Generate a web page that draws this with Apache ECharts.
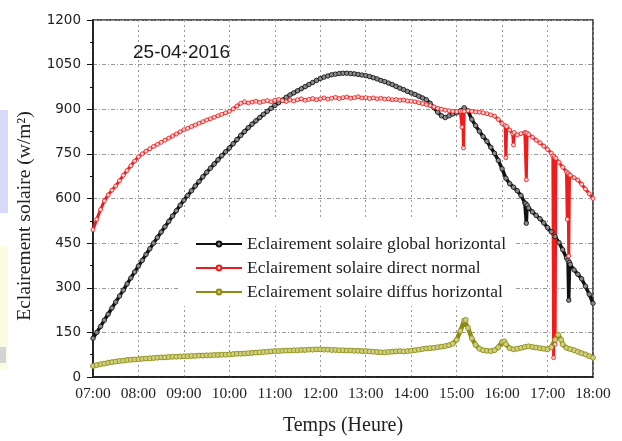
<!DOCTYPE html>
<html>
<head>
<meta charset="utf-8">
<title>Eclairement solaire 25-04-2016</title>
<script src="https://cdn.jsdelivr.net/npm/echarts@6/dist/echarts.min.js"></script>
<style>
  html, body { margin: 0; padding: 0; background: #fff; }
  #chart { width: 622px; height: 441px; }
</style>
</head>
<body>
<div id="chart"></div>
<script>
// Measured irradiance, 25-04-2016, pairs of [local time, W/m²]
const globalHorizontal = [
  ["07:00",130],["07:05",150],["07:10",170],["07:15",191],["07:20",211],["07:25",232],
  ["07:30",252],["07:35",272],["07:40",292],["07:45",313],["07:50",333],["07:55",353],
  ["08:00",373],["08:05",392],["08:10",412],["08:15",431],["08:20",450],["08:25",469],
  ["08:30",487],["08:35",505],["08:40",523],["08:45",541],["08:50",559],["08:55",577],
  ["09:00",594],["09:05",610],["09:10",626],["09:15",642],["09:20",657],["09:25",673],
  ["09:30",688],["09:35",702],["09:40",716],["09:45",730],["09:50",744],["09:55",757],
  ["10:00",770],["10:05",784],["10:10",798],["10:15",812],["10:20",825],["10:25",838],
  ["10:30",850],["10:35",861],["10:40",872],["10:45",883],["10:50",893],["10:55",903],
  ["11:00",913],["11:05",922],["11:10",931],["11:15",940],["11:20",948],["11:25",955],
  ["11:30",962],["11:35",969],["11:40",976],["11:45",983],["11:50",990],["11:55",997],
  ["12:00",1003],["12:05",1008],["12:10",1012],["12:15",1016],["12:20",1018],["12:25",1020],
  ["12:30",1021],["12:35",1021],["12:40",1020],["12:45",1019],["12:50",1017],["12:55",1015],
  ["13:00",1013],["13:05",1010],["13:10",1006],["13:15",1002],["13:20",997],["13:25",993],
  ["13:30",988],["13:35",983],["13:40",977],["13:45",971],["13:50",966],["13:55",960],
  ["14:00",955],["14:05",950],["14:10",944],["14:15",938],["14:20",932],["14:25",920],
  ["14:30",905],["14:35",890],["14:40",878],["14:45",872],["14:50",878],["14:55",884],
  ["15:00",888],["15:05",895],["15:10",905],["15:15",895],["15:20",866],["15:25",845],
  ["15:30",826],["15:35",808],["15:40",792],["15:45",772],["15:50",752],["15:55",728],
  ["16:00",700],["16:05",668],["16:10",650],["16:15",638],["16:20",626],["16:25",610],
  ["16:30",585],["16:31",583],["16:32",517],["16:33",578],["16:35",568],["16:40",555],
  ["16:45",543],["16:50",532],["16:55",518],["17:00",502],["17:05",488],["17:10",472],
  ["17:15",452],["17:20",428],["17:25",400],["17:27",392],["17:28",258],["17:29",385],
  ["17:30",378],["17:35",360],["17:40",345],["17:45",330],["17:50",305],["17:55",278],
  ["18:00",248]
];

const directNormal = [
  ["07:00",495],["07:05",530],["07:10",563],["07:15",592],["07:20",612],["07:25",628],
  ["07:30",642],["07:35",660],["07:40",678],["07:45",694],["07:50",710],["07:55",726],
  ["08:00",740],["08:05",750],["08:10",759],["08:15",767],["08:20",775],["08:25",782],
  ["08:30",789],["08:35",796],["08:40",803],["08:45",810],["08:50",817],["08:55",824],
  ["09:00",831],["09:05",836],["09:10",842],["09:15",847],["09:20",853],["09:25",858],
  ["09:30",864],["09:35",868],["09:40",873],["09:45",878],["09:50",883],["09:55",888],
  ["10:00",893],["10:05",901],["10:10",911],["10:15",920],["10:20",925],["10:25",921],
  ["10:30",924],["10:35",927],["10:40",923],["10:45",926],["10:50",929],["10:55",925],
  ["11:00",930],["11:05",933],["11:10",929],["11:15",926],["11:20",931],["11:25",928],
  ["11:30",932],["11:35",935],["11:40",930],["11:45",933],["11:50",936],["11:55",932],
  ["12:00",935],["12:05",938],["12:10",934],["12:15",937],["12:20",940],["12:25",936],
  ["12:30",939],["12:35",941],["12:40",937],["12:45",939],["12:50",942],["12:55",938],
  ["13:00",939],["13:05",936],["13:10",938],["13:15",935],["13:20",937],["13:25",934],
  ["13:30",935],["13:35",932],["13:40",933],["13:45",930],["13:50",931],["13:55",928],
  ["14:00",927],["14:05",925],["14:10",922],["14:15",919],["14:20",916],["14:25",912],
  ["14:30",908],["14:35",903],["14:40",900],["14:45",897],["14:50",895],["14:55",893],
  ["15:00",892],["15:05",893],["15:07",840],["15:08",893],["15:09",770],["15:10",893],
  ["15:15",895],["15:20",893],["15:25",891],["15:30",890],["15:35",888],["15:40",885],
  ["15:45",881],["15:50",877],["15:55",866],["16:00",852],["16:04",845],["16:05",737],
  ["16:06",842],["16:10",830],["16:14",818],["16:15",780],["16:16",822],["16:20",814],
  ["16:25",818],["16:30",822],["16:31",821],["16:32",663],["16:33",820],["16:35",815],
  ["16:40",806],["16:45",796],["16:50",787],["16:55",776],["17:00",765],["17:05",752],
  ["17:07",743],["17:08",65],["17:09",740],["17:10",110],["17:11",735],["17:15",722],
  ["17:20",705],["17:25",690],["17:26",530],["17:27",685],["17:28",407],["17:29",680],
  ["17:30",678],["17:35",670],["17:40",662],["17:45",648],["17:50",632],["17:55",616],
  ["18:00",600]
];

const diffuseHorizontal = [
  ["07:00",37],["07:05",40],["07:10",43],["07:15",45],["07:20",48],["07:25",50],
  ["07:30",52],["07:35",54],["07:40",55],["07:45",57],["07:50",58],["07:55",59],
  ["08:00",60],["08:05",61],["08:10",62],["08:15",63],["08:20",64],["08:25",65],
  ["08:30",66],["08:35",66],["08:40",67],["08:45",68],["08:50",68],["08:55",69],
  ["09:00",70],["09:05",70],["09:10",71],["09:15",71],["09:20",72],["09:25",72],
  ["09:30",73],["09:35",73],["09:40",74],["09:45",74],["09:50",75],["09:55",75],
  ["10:00",76],["10:05",77],["10:10",78],["10:15",78],["10:20",79],["10:25",80],
  ["10:30",81],["10:35",82],["10:40",83],["10:45",84],["10:50",85],["10:55",86],
  ["11:00",87],["11:05",87],["11:10",88],["11:15",89],["11:20",89],["11:25",90],
  ["11:30",90],["11:35",91],["11:40",91],["11:45",92],["11:50",92],["11:55",93],
  ["12:00",93],["12:05",92],["12:10",92],["12:15",91],["12:20",91],["12:25",90],
  ["12:30",90],["12:35",89],["12:40",89],["12:45",88],["12:50",88],["12:55",87],
  ["13:00",87],["13:05",86],["13:10",85],["13:15",84],["13:20",83],["13:25",83],
  ["13:30",84],["13:35",85],["13:40",86],["13:45",87],["13:50",86],["13:55",87],
  ["14:00",88],["14:05",90],["14:10",92],["14:15",94],["14:20",96],["14:25",97],
  ["14:30",98],["14:35",100],["14:40",102],["14:45",104],["14:50",107],["14:55",112],
  ["15:00",125],["15:05",155],["15:10",190],["15:12",192],["15:15",165],["15:20",130],
  ["15:25",108],["15:30",95],["15:35",90],["15:40",88],["15:45",87],["15:50",90],
  ["15:55",100],["16:00",118],["16:03",120],["16:05",110],["16:10",97],["16:15",93],
  ["16:20",95],["16:25",98],["16:30",101],["16:35",103],["16:40",101],["16:45",99],
  ["16:50",97],["16:55",95],["17:00",93],["17:05",100],["17:10",125],["17:14",142],
  ["17:18",125],["17:20",110],["17:25",98],["17:30",94],["17:35",90],["17:40",85],
  ["17:45",80],["17:50",76],["17:55",70],["18:00",65]
];

const seriesNames = [
  "Eclairement solaire global horizontal",
  "Eclairement solaire direct normal",
  "Eclairement solaire diffus horizontal"
];
const hourTicks = [7, 8, 9, 10, 11, 12, 13, 14, 15, 16, 17, 18];
const irradianceTicks = [0, 150, 300, 450, 600, 750, 900, 1050, 1200];

function toHours(t) {
  const [h, m] = t.split(":").map(Number);
  return h + m / 60;
}
function toPoints(rows) {
  return rows.map(([t, v]) => [toHours(t), v]);
}
function hourLabel(v) {
  return String(Math.round(v)).padStart(2, "0") + ":00";
}

const serif = "'Liberation Serif', 'Times New Roman', serif";

function lineSeries(name, rows, lineColor, fillColor, size, width) {
  return {
    name: name,
    type: "line",
    data: toPoints(rows),
    symbol: "circle",
    symbolSize: size,
    showSymbol: true,
    showAllSymbol: true,
    lineStyle: { color: lineColor, width: width },
    itemStyle: { color: fillColor, borderColor: lineColor, borderWidth: 0.8 },
    emphasis: { disabled: true }
  };
}

const chart = echarts.init(document.getElementById("chart"), null, { renderer: "canvas" });

chart.setOption({
  animation: false,
  backgroundColor: "#fff",
  title: {
    text: "25-04-2016",
    left: 133,
    top: 43,
    padding: 0,
    textStyle: { fontFamily: "'Liberation Sans', Arial, sans-serif", fontSize: 19, fontWeight: "normal", color: "#1a1a1a" }
  },
  grid: {
    left: 93, right: 29, top: 20, bottom: 58,
    show: true, borderColor: "#222", borderWidth: 1.5
  },
  legend: {
    data: seriesNames,
    orient: "vertical",
    left: 180,
    top: 218,
    itemWidth: 46,
    itemHeight: 6,
    itemGap: 6,
    padding: [17, 10, 5, 15],
    backgroundColor: "#fff",
    textStyle: { fontFamily: serif, fontSize: 17.5, color: "#222" }
  },
  xAxis: {
    type: "value",
    min: hourTicks[0],
    max: hourTicks[hourTicks.length - 1],
    interval: 1,
    name: "Temps (Heure)",
    nameLocation: "middle",
    nameGap: 39,
    nameTextStyle: { fontFamily: serif, fontSize: 20, color: "#222" },
    axisLine: { lineStyle: { color: "#111", width: 1.5 } },
    axisTick: { show: false },
    axisLabel: {
      margin: 9,
      formatter: hourLabel,
      fontFamily: serif, fontSize: 15.5, color: "#222"
    },
    splitLine: { show: true, lineStyle: { color: "#999", width: 1, type: [2, 3] } }
  },
  yAxis: {
    type: "value",
    min: irradianceTicks[0],
    max: irradianceTicks[irradianceTicks.length - 1],
    interval: irradianceTicks[1] - irradianceTicks[0],
    axisLine: { show: true, lineStyle: { color: "#111", width: 1.5 } },
    axisTick: { show: true, inside: false, length: 6, lineStyle: { color: "#111", width: 1 } },
    minorTick: { show: true, splitNumber: 2, length: 3, lineStyle: { color: "#111", width: 1 } },
    axisLabel: {
      margin: 12,
      formatter: v => String(v),
      fontFamily: "'DejaVu Sans', Verdana, sans-serif", fontSize: 13.5, color: "#222"
    },
    splitLine: { show: true, lineStyle: { color: "#999", width: 1, type: [4, 2, 1, 2] } }
  },
  graphic: [
    // thin coloured strips along the left edge
    { type: "rect", left: 0, top: 110, shape: { width: 8, height: 103 }, style: { fill: "#d8d8f7" }, silent: true },
    { type: "rect", left: 0, top: 246, shape: { width: 8, height: 124 }, style: { fill: "#fcfce4" }, silent: true },
    { type: "rect", left: 0, top: 347, shape: { width: 6, height: 16 }, style: { fill: "#d4d4d4" }, silent: true },
    {
      type: "text",
      x: 25,
      y: 216,
      rotation: Math.PI / 2,
      style: {
        text: "Eclairement solaire (w/m²)",
        fontFamily: serif,
        fontSize: 19.5,
        fill: "#222",
        align: "center",
        verticalAlign: "middle"
      },
      silent: true
    }
  ],
  series: [
    lineSeries(seriesNames[0], globalHorizontal, "#111111", "#8a8a8a", 4.5, 3.5),
    lineSeries(seriesNames[1], directNormal, "#ee1c1c", "#ffd0d0", 4, 3),
    lineSeries(seriesNames[2], diffuseHorizontal, "#8c8c14", "#cfcf80", 5, 4.5)
  ]
});
</script>
</body>
</html>
